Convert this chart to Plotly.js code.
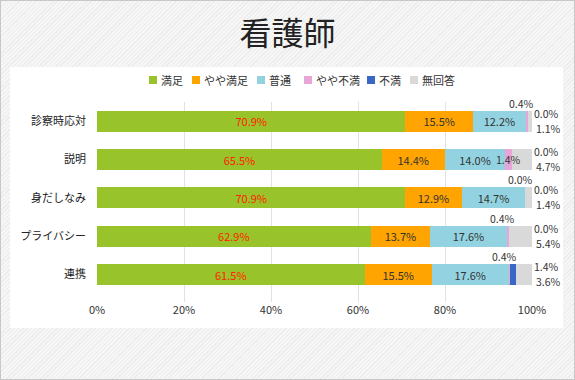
<!DOCTYPE html>
<html>
<head>
<meta charset="utf-8">
<script src="https://cdn.plot.ly/plotly-3.0.1.min.js"></script>
<style>
html,body{margin:0;padding:0;}
body{width:575px;height:380px;overflow:hidden;
background:repeating-linear-gradient(135deg,#f6f6f6 0px,#f6f6f6 2px,#ececec 2px,#ececec 3px);}
#frame{position:absolute;left:0;top:0;width:573px;height:378px;border:1px solid #c8c8c8;}
#chart{position:absolute;left:0;top:0;width:575px;height:380px;}
</style>
</head>
<body>
<div id="frame"></div>
<div id="chart"></div>
<script>
const categories = ['診察時応対','説明','身だしなみ','プライバシー','連携'];
const seriesNames = ['満足','やや満足','普通','やや不満','不満','無回答'];
const manzoku     = [70.9, 65.5, 70.9, 62.9, 61.5];
const yayaManzoku = [15.5, 14.4, 12.9, 13.7, 15.5];
const futsuu      = [12.2, 14.0, 14.7, 17.6, 17.6];
const yayaFuman   = [0.4, 1.4, 0.0, 0.4, 0.4];
const fuman       = [0.0, 0.0, 0.0, 0.0, 1.4];
const mukaitou    = [1.1, 4.7, 1.4, 5.4, 3.6];
const xTicks      = [0, 20, 40, 60, 80, 100];

const colors = ['#99c32a','#ffa400','#93d3e1','#e8a5d8','#3a66c6','#d9d9d9'];
const series = [manzoku, yayaManzoku, futsuu, yayaFuman, fuman, mukaitou];
const FONT = '"Noto Sans CJK JP", "Noto Sans", sans-serif';
const fmt = v => v.toFixed(1) + '%';

const traces = series.map((vals, i) => {
  const inside = i < 3;
  return {
    type: 'bar', orientation: 'h', name: seriesNames[i],
    y: categories, x: vals,
    marker: {color: colors[i], line: {width: 0}},
    text: inside ? vals.map(fmt) : vals.map(() => ''),
    textposition: inside ? 'inside' : 'none',
    insidetextanchor: 'middle',
    textangle: 0,
    constraintext: 'none',
    textfont: {family: FONT, size: 11, color: i === 0 ? '#ff2200' : '#333333'},
    hoverinfo: 'skip', showlegend: false
  };
});

const L = 97, R = 43, T = 102, B = 78, W = 575 - L - R, H = 380 - T - B;
const px = v => (v - L) / W;
const py = v => (380 - B - v) / H;

const annotations = [];
categories.forEach((c, k) => {
  const base = manzoku[k] + yayaManzoku[k] + futsuu[k];
  const v = yayaFuman[k];
  if (v >= 1) {
    annotations.push({x: base + v / 2, y: c, xref: 'x', yref: 'y', text: fmt(v), showarrow: false,
      font: {family: FONT, size: 10.5, color: '#333'}});
  } else {
    annotations.push({x: base + v / 2, y: c, xref: 'x', yref: 'y', text: fmt(v), showarrow: false,
      yshift: 18, xshift: -5, font: {family: FONT, size: 10.5, color: '#333'}});
  }
  annotations.push({x: 100, y: c, xref: 'x', yref: 'y', text: fmt(fuman[k]), showarrow: false,
    xanchor: 'left', xshift: 0, yshift: 8, font: {family: FONT, size: 10.5, color: '#333'}});
  annotations.push({x: 100, y: c, xref: 'x', yref: 'y', text: fmt(mukaitou[k]), showarrow: false,
    xanchor: 'left', xshift: 2, yshift: -7, font: {family: FONT, size: 10.5, color: '#333'}});
});

// legend (drawn as keys + labels above the plot)
const legendX = [149, 192, 257, 304, 367, 410];
const legendY = 80;
const shapes = [{type: 'rect', xref: 'paper', yref: 'paper', x0: px(10), x1: px(563), y0: py(328), y1: py(67),
  fillcolor: '#ffffff', line: {width: 0}, layer: 'below'}];
seriesNames.forEach((n, i) => {
  shapes.push({type: 'rect', xref: 'paper', yref: 'paper', x0: px(legendX[i]), x1: px(legendX[i] + 8),
    y0: py(legendY + 4), y1: py(legendY - 4), fillcolor: colors[i], line: {width: 0}});
  annotations.push({xref: 'paper', yref: 'paper', x: px(legendX[i] + 10), y: py(legendY), xanchor: 'left',
    yanchor: 'middle', text: n, showarrow: false, font: {family: FONT, size: 11, color: '#333'}});
});

const layout = {
  width: 575, height: 380,
  margin: {l: L, r: R, t: T, b: B, pad: 0},
  paper_bgcolor: 'rgba(0,0,0,0)', plot_bgcolor: '#ffffff',
  barmode: 'stack', bargap: 0.45,
  font: {family: FONT, color: '#333'},
  title: {text: '看護師', font: {family: FONT, size: 32, color: '#222'},
    x: 0.5, xanchor: 'center', y: 1 - 34 / 380, yanchor: 'middle', xref: 'container', yref: 'container'},
  showlegend: false,
  xaxis: {range: [0, 100], tickvals: xTicks, ticktext: xTicks.map(v => v + '%'),
    showgrid: true, gridcolor: '#e2e2e2', gridwidth: 1, zeroline: false, showline: false,
    ticks: '', tickfont: {family: FONT, size: 11, color: '#333'}, fixedrange: true},
  yaxis: {autorange: 'reversed', showgrid: false, zeroline: false, showline: false, ticks: '',
    ticklabelstandoff: 10,
    tickfont: {family: FONT, size: 11, color: '#222'}, fixedrange: true},
  shapes: shapes,
  annotations: annotations
};

Plotly.newPlot('chart', traces, layout, {displayModeBar: false, staticPlot: true});
</script>
</body>
</html>
